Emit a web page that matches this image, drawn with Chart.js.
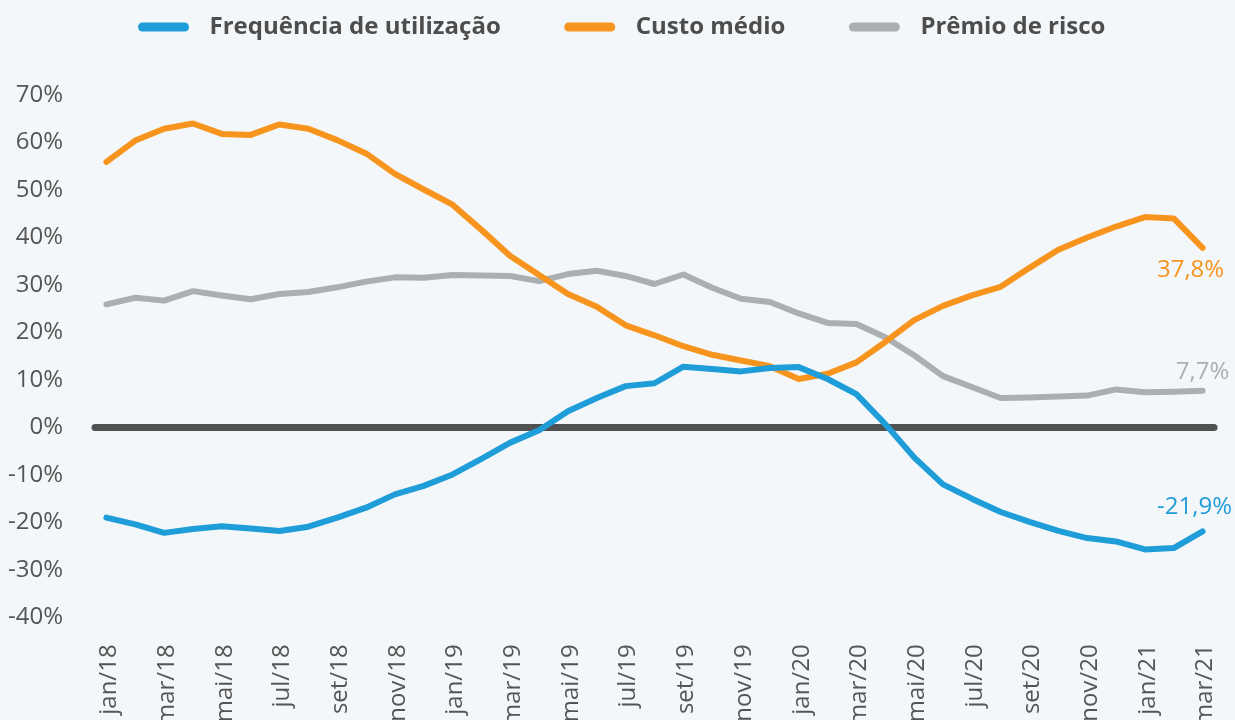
<!DOCTYPE html>
<html lang="pt-BR">
<head>
<meta charset="utf-8">
<title>Frequência de utilização, custo médio e prêmio de risco</title>
<script src="https://cdn.jsdelivr.net/npm/chart.js@4.4.1/dist/chart.umd.min.js"></script>
<style>
    html, body { margin: 0; padding: 0; background: #f4f7f9; overflow: hidden; }
    #wrap { width: 1235px; height: 720px; overflow: hidden; }
</style>
</head>
<body>
<div id="wrap"><canvas id="chart" width="1235" height="753"></canvas></div>
<script>
// --- Data ---
const months = [
    'jan/18', 'fev/18', 'mar/18', 'abr/18', 'mai/18', 'jun/18', 'jul/18', 'ago/18', 'set/18', 'out/18', 'nov/18', 'dez/18',
    'jan/19', 'fev/19', 'mar/19', 'abr/19', 'mai/19', 'jun/19', 'jul/19', 'ago/19', 'set/19', 'out/19', 'nov/19', 'dez/19',
    'jan/20', 'fev/20', 'mar/20', 'abr/20', 'mai/20', 'jun/20', 'jul/20', 'ago/20', 'set/20', 'out/20', 'nov/20', 'dez/20',
    'jan/21', 'fev/21', 'mar/21'
];

const frequencia = [
    -19.0, -20.4, -22.2, -21.4, -20.8, -21.3, -21.8, -20.9, -19.0, -16.9, -14.1, -12.3,
    -9.9, -6.6, -3.2, -0.6, 3.4, 6.2, 8.7, 9.3, 12.8, 12.3, 11.8, 12.5,
    12.7, 10.2, 7.0, 0.7, -6.3, -12.0, -15.0, -17.8, -19.9, -21.8, -23.3, -24.0,
    -25.7, -25.4, -21.9
];

const custoMedio = [
    55.9, 60.4, 62.9, 64.0, 61.8, 61.6, 63.8, 62.9, 60.5, 57.7, 53.4, 50.1,
    46.9, 41.6, 36.1, 32.1, 28.1, 25.4, 21.5, 19.4, 17.1, 15.3, 14.1, 12.9,
    10.2, 11.3, 13.7, 18.0, 22.6, 25.6, 27.8, 29.6, 33.6, 37.4, 40.0, 42.3,
    44.3, 44.0, 37.8
];

const premioRisco = [
    25.9, 27.3, 26.7, 28.7, 27.8, 27.0, 28.1, 28.5, 29.5, 30.7, 31.6, 31.5,
    32.1, 32.0, 31.9, 30.8, 32.3, 33.0, 31.9, 30.2, 32.2, 29.4, 27.1, 26.4,
    24.0, 22.0, 21.8, 19.0, 15.2, 10.8, 8.5, 6.2, 6.3, 6.5, 6.7, 8.0,
    7.4, 7.5, 7.7
];

const Y_MIN = -40;
const Y_MAX = 70;
const Y_STEP = 10;

// --- Colours ---
const BLUE = '#1f9dd9';
const ORANGE = '#f7941e';
const GRAY = '#a9afb2';
const TEXT = '#555555';
const FONT = '"Open Sans", "Noto Sans", sans-serif';

// thick dark line at 0%
const zeroLine = {
    id: 'zeroLine',
    beforeDatasetsDraw(chart) {
        const { ctx, chartArea, scales } = chart;
        const y = scales.y.getPixelForValue(0);
        ctx.save();
        ctx.strokeStyle = '#505251';
        ctx.lineWidth = 7;
        ctx.lineCap = 'round';
        ctx.beginPath();
        ctx.moveTo(chartArea.left + 3, y);
        ctx.lineTo(chartArea.right - 3, y);
        ctx.stroke();
        ctx.restore();
    }
};

// value label next to the last point of each series
const endLabels = {
    id: 'endLabels',
    afterDatasetsDraw(chart) {
        const ctx = chart.ctx;
        ctx.save();
        ctx.font = '24px ' + FONT;
        ctx.textAlign = 'center';
        ctx.textBaseline = 'middle';
        chart.data.datasets.forEach((ds, i) => {
            const meta = chart.getDatasetMeta(i);
            const pt = meta.data[meta.data.length - 1];
            const value = ds.data[ds.data.length - 1];
            const text = value.toFixed(1).replace('.', ',') + '%';
            ctx.fillStyle = ds.borderColor;
            ctx.fillText(text, pt.x + ds.labelDx, pt.y + ds.labelDy);
        });
        ctx.restore();
    }
};

// legend row at the top: rounded swatch + bold label
const legendRow = {
    id: 'legendRow',
    afterDraw(chart) {
        const ctx = chart.ctx;
        const swatch = 42, gapText = 25, gapItem = 68, y = 27;
        ctx.save();
        ctx.font = 'bold 24px ' + FONT;
        ctx.textBaseline = 'middle';
        const items = chart.data.datasets.map(ds => ({
            text: ds.label, color: ds.borderColor, w: ctx.measureText(ds.label).width
        }));
        const total = items.reduce((s, it) => s + swatch + gapText + it.w, 0) + gapItem * (items.length - 1);
        let x = 624 - total / 2;
        items.forEach(it => {
            ctx.strokeStyle = it.color;
            ctx.lineWidth = 9;
            ctx.lineCap = 'round';
            ctx.beginPath();
            ctx.moveTo(x, y);
            ctx.lineTo(x + swatch, y);
            ctx.stroke();
            ctx.fillStyle = '#4d4d4d';
            ctx.fillText(it.text, x + swatch + gapText, y);
            x += swatch + gapText + it.w + gapItem;
        });
        ctx.restore();
    }
};

const ctx = document.getElementById('chart').getContext('2d');

new Chart(ctx, {
    type: 'line',
    data: {
        labels: months,
        datasets: [
            { label: 'Frequência de utilização', data: frequencia, borderColor: BLUE, backgroundColor: BLUE, labelDx: -8, labelDy: -24 },
            { label: 'Custo médio', data: custoMedio, borderColor: ORANGE, backgroundColor: ORANGE, labelDx: -12, labelDy: 22 },
            { label: 'Prêmio de risco', data: premioRisco, borderColor: GRAY, backgroundColor: GRAY, labelDx: 0, labelDy: -19 }
        ]
    },
    options: {
        responsive: false,
        animation: false,
        devicePixelRatio: 1,
        layout: { padding: { top: 95, left: 8, right: 18, bottom: 0 } },
        elements: {
            line: { borderWidth: 6, tension: 0, borderCapStyle: 'round', borderJoinStyle: 'round' },
            point: { radius: 0, hoverRadius: 0 }
        },
        scales: {
            x: {
                offset: true,
                grid: { display: false, drawTicks: false },
                border: { display: false },
                afterFit: scale => { scale.paddingLeft = 0; scale.paddingRight = 0; },
                ticks: {
                    autoSkip: false,
                    minRotation: 90,
                    maxRotation: 90,
                    padding: 27,
                    labelOffset: 3,
                    color: TEXT,
                    font: { family: FONT, size: 24 },
                    callback: (v, i) => (i % 2 === 0 ? months[i] : null)
                }
            },
            y: {
                min: Y_MIN,
                max: Y_MAX,
                grid: { display: false, drawTicks: false },
                border: { display: false },
                afterFit: scale => { scale.width = 84; },
                ticks: {
                    stepSize: Y_STEP,
                    padding: 29,
                    color: TEXT,
                    font: { family: FONT, size: 24 },
                    callback: v => v + '%'
                }
            }
        },
        plugins: {
            legend: { display: false },
            tooltip: { enabled: false }
        }
    },
    plugins: [zeroLine, endLabels, legendRow]
});
</script>
</body>
</html>
